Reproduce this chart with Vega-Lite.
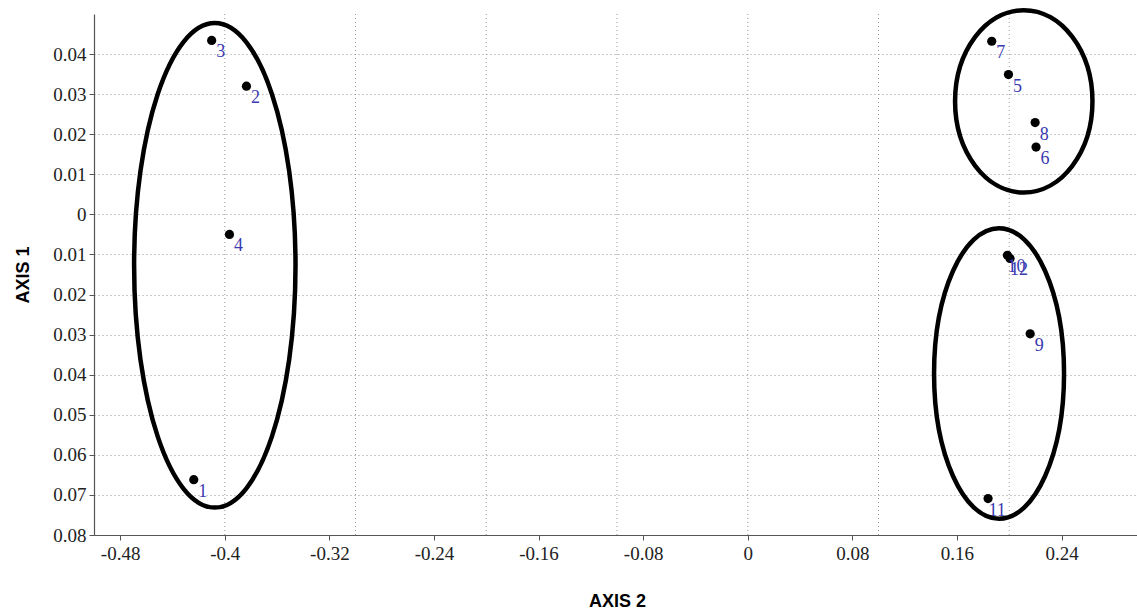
{
  "$schema": "https://vega.github.io/schema/vega-lite/v6.json",
  "autosize": {"type": "none"},
  "padding": {"left": 94, "top": 14, "right": 0, "bottom": 80},
  "width": 1046,
  "height": 521,
  "background": "white",
  "config": {
    "view": {"stroke": null},
    "axis": {
      "labelFont": "Liberation Serif",
      "labelFontSize": 19,
      "labelColor": "#222222",
      "domainColor": "#555555",
      "domainWidth": 1.2,
      "tickColor": "#555555",
      "tickSize": 5,
      "titleFont": "Liberation Sans",
      "titleFontWeight": "bold",
      "titleFontSize": 18,
      "titleColor": "#000000"
    }
  },
  "datasets": {
    "pts": [
      {"id": "1", "axis2": -0.4237, "axis1": -0.0662},
      {"id": "2", "axis2": -0.3834, "axis1": 0.032},
      {"id": "3", "axis2": -0.41, "axis1": 0.0434},
      {"id": "4", "axis2": -0.3964, "axis1": -0.005},
      {"id": "5", "axis2": 0.1994, "axis1": 0.0349},
      {"id": "6", "axis2": 0.2205, "axis1": 0.0168},
      {"id": "7", "axis2": 0.1866, "axis1": 0.0432},
      {"id": "8", "axis2": 0.2198, "axis1": 0.0229},
      {"id": "9", "axis2": 0.216, "axis1": -0.0298},
      {"id": "10", "axis2": 0.1986, "axis1": -0.0102},
      {"id": "11", "axis2": 0.1838, "axis1": -0.0709},
      {"id": "12", "axis2": 0.2006, "axis1": -0.011}
    ],
    "groups": [
      {"group": "A", "axis2": -0.4076, "axis1": -0.0127},
      {"group": "B", "axis2": 0.2111, "axis1": 0.0282},
      {"group": "C", "axis2": 0.1922, "axis1": -0.0397}
    ],
    "xgrid": [
      {"axis2": -0.4}, {"axis2": -0.3}, {"axis2": -0.2}, {"axis2": -0.1},
      {"axis2": 0}, {"axis2": 0.1}, {"axis2": 0.2}
    ]
  },
  "encoding": {
    "x": {
      "field": "axis2",
      "type": "quantitative",
      "scale": {"domain": [-0.5, 0.3], "nice": false, "zero": false},
      "axis": {
        "title": "AXIS 2",
        "values": [-0.48, -0.4, -0.32, -0.24, -0.16, -0.08, 0, 0.08, 0.16, 0.24],
        "labelExpr": "replace(format(datum.value, '.2~f'), '\u2212', '-')",
        "grid": false,
        "labelPadding": 4,
        "titleY": 66,
        "titleBaseline": "middle"
      }
    },
    "y": {
      "field": "axis1",
      "type": "quantitative",
      "scale": {"domain": [-0.08, 0.05], "nice": false, "zero": false},
      "axis": {
        "title": "AXIS 1",
        "values": [-0.08, -0.07, -0.06, -0.05, -0.04, -0.03, -0.02, -0.01, 0, 0.01, 0.02, 0.03, 0.04],
        "labelExpr": "format(abs(datum.value), '.2~f')",
        "grid": true,
        "gridColor": "#999999",
        "gridDash": [1, 3],
        "gridWidth": 1,
        "labelPadding": 3,
        "titleX": -71,
        "titleBaseline": "middle"
      }
    }
  },
  "layer": [
    {
      "data": {"name": "xgrid"},
      "mark": {"type": "rule", "color": "#999999", "strokeDash": [1, 3], "strokeWidth": 1},
      "encoding": {"y": null}
    },
    {
      "data": {"name": "xgrid"},
      "mark": {"type": "rule", "color": "#777777", "strokeWidth": 1.2},
      "encoding": {"x": null, "y": {"datum": 0.05}}
    },
    {
      "data": {"name": "pts"},
      "mark": {"type": "circle", "size": 85, "color": "#000000", "opacity": 1}
    },
    {
      "data": {"name": "pts"},
      "mark": {"type": "text", "dx": 9, "dy": 12, "color": "#3a3ab0", "font": "Liberation Serif", "fontSize": 18, "align": "center", "baseline": "middle"},
      "encoding": {"text": {"field": "id"}}
    },
    {
      "data": {"name": "groups"},
      "mark": {"type": "point", "filled": false, "color": "#000000", "strokeWidth": 4.5, "opacity": 1, "size": 4},
      "encoding": {
        "shape": {
          "field": "group",
          "type": "nominal",
          "legend": null,
          "scale": {
            "domain": ["A", "B", "C"],
            "range": [
              "M80.7,0 C80.7,133.82 44.57,242.3 0,242.3 C-44.57,242.3 -80.7,133.82 -80.7,0 C-80.7,-133.82 -44.57,-242.3 0,-242.3 C44.57,-242.3 80.7,-133.82 80.7,0 Z",
              "M68.7,0 C68.7,50.37 37.94,91.2 0,91.2 C-37.94,91.2 -68.7,50.37 -68.7,0 C-68.7,-50.37 -37.94,-91.2 0,-91.2 C37.94,-91.2 68.7,-50.37 68.7,0 Z",
              "M65,0 C65,80.25 35.9,145.3 0,145.3 C-35.9,145.3 -65,80.25 -65,0 C-65,-80.25 -35.9,-145.3 0,-145.3 C35.9,-145.3 65,-80.25 65,0 Z"
            ]
          }
        }
      }
    }
  ]
}
